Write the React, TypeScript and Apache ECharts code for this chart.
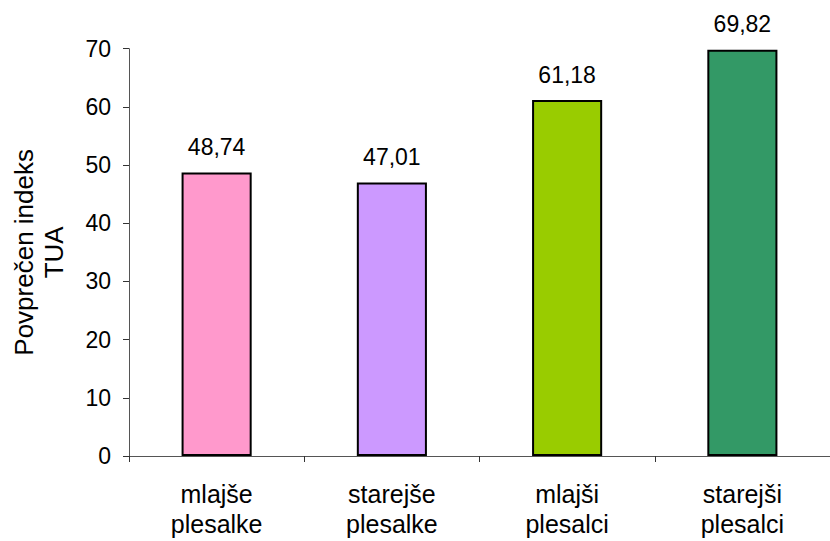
import React, { useEffect, useRef } from "react";
import * as echarts from "echarts";

const categories = ["mlajše\nplesalke", "starejše\nplesalke", "mlajši\nplesalci", "starejši\nplesalci"];
const values = [48.74, 47.01, 61.18, 69.82];
const barColors = ["#FF99CC", "#CC99FF", "#99CC00", "#339966"];
const yTicks = { min: 0, max: 70, interval: 10 };
const yName = "Povprečen indeks\nTUA";

const FONT = "Liberation Sans, Arial, sans-serif";

export default function App() {
  const ref = useRef<HTMLDivElement>(null);
  useEffect(() => {
    const chart = echarts.init(ref.current!, undefined, { renderer: "svg" });
    chart.setOption({
      animation: false,
      backgroundColor: "#ffffff",
      grid: { left: 129, right: -10, top: 48.7, bottom: 85, containLabel: false },
      xAxis: {
        type: "category",
        data: categories,
        axisLine: { lineStyle: { color: "#555555", width: 1 } },
        axisTick: { show: true, length: 6, inside: false, lineStyle: { color: "#333333" } },
        axisLabel: {
          color: "#000000",
          fontFamily: FONT,
          fontSize: 25,
          lineHeight: 30,
          margin: 23,
          interval: 0,
        },
      },
      yAxis: {
        type: "value",
        min: yTicks.min,
        max: yTicks.max,
        interval: yTicks.interval,
        name: yName,
        nameLocation: "middle",
        nameGap: 60,
        nameRotate: 90,
        nameTextStyle: {
          color: "#000000",
          fontFamily: FONT,
          fontSize: 26,
          lineHeight: 30,
          align: "center",
        },
        splitLine: { show: false },
        axisLine: { show: true, lineStyle: { color: "#555555", width: 1 } },
        axisTick: { show: true, length: 6, lineStyle: { color: "#333333" } },
        axisLabel: {
          color: "#000000",
          fontFamily: FONT,
          fontSize: 23,
          margin: 18,
        },
      },
      series: [
        {
          type: "bar",
          barWidth: "40%",
          data: values.map((v, i) => ({
            value: v,
            itemStyle: { color: barColors[i], borderColor: "#000000", borderWidth: 2 },
          })),
          label: {
            show: true,
            position: "top",
            distance: 14,
            color: "#000000",
            fontFamily: FONT,
            fontSize: 23,
            formatter: (p: any) => Number(p.value).toFixed(2).replace(".", ","),
          },
        },
      ],
    });
    return () => chart.dispose();
  }, []);
  return <div ref={ref} style={{ width: 830, height: 541, position: "absolute", left: 0, top: 0 }} />;
}
